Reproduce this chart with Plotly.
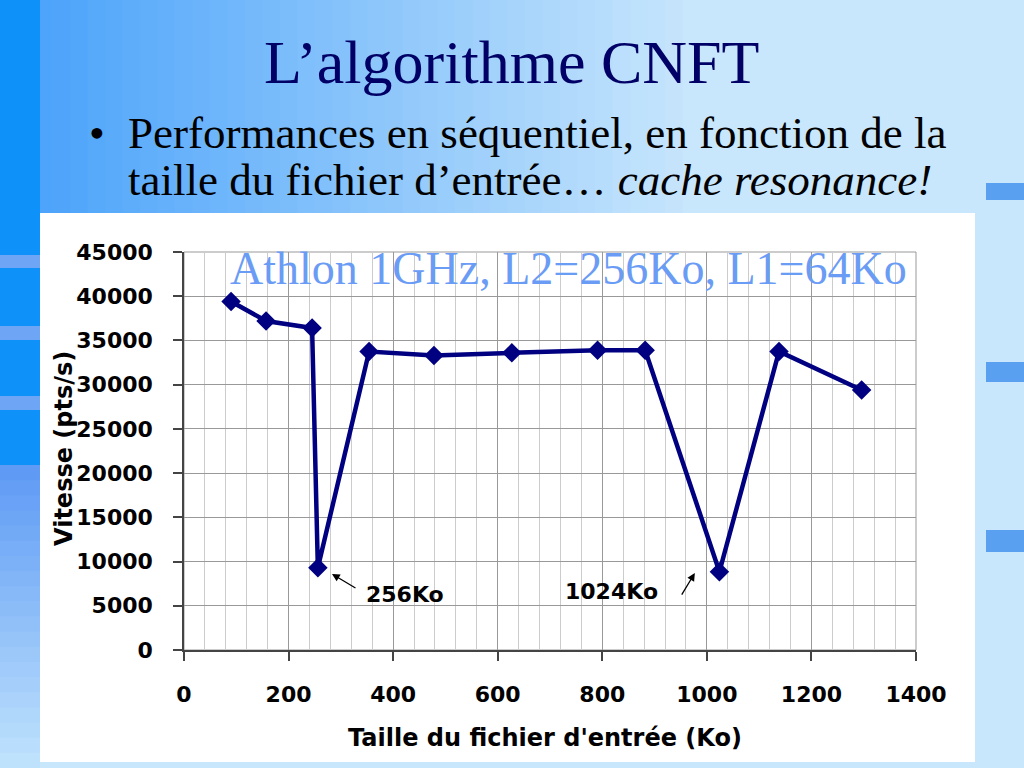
import plotly.graph_objects as go

# ---- data ----
taille_ko = [90, 157, 245, 256, 354, 478, 627, 791, 882, 1024, 1138, 1296]
vitesse = [39400, 37200, 36400, 9300, 33750, 33300, 33600, 33900, 33900, 8850, 33750, 29400]
x_ticks = [0, 200, 400, 600, 800, 1000, 1200, 1400]
y_ticks = [0, 5000, 10000, 15000, 20000, 25000, 30000, 35000, 40000, 45000]

W, H = 1024, 768
L, R, T, B = 184, 916, 252, 650  # plot area in pixels


def px(p):
    return (p - L) / (R - L)


def py(p):
    return (B - p) / (B - T)


def lerp(c1, c2, t):
    return "rgb(%d,%d,%d)" % tuple(round(a + (b - a) * t) for a, b in zip(c1, c2))


fig = go.Figure()
fig.add_trace(go.Scatter(
    x=taille_ko, y=vitesse, mode="lines+markers",
    line=dict(color="#000080", width=4.5),
    marker=dict(symbol="diamond", size=15, color="#000080"),
    hoverinfo="x+y", showlegend=False,
))

shapes = []
# background decoration: horizontal gradient at top
light = (200, 230, 252)
blue = (70, 160, 250)
N = 40
for i in range(N):
    x0 = i * 700 / N
    x1 = (i + 1) * 700 / N + 1
    t = i / (N - 1)
    shapes.append(dict(type="rect", xref="paper", yref="paper", layer="below",
                       x0=px(x0), x1=px(x1), y0=py(213), y1=py(0),
                       fillcolor=lerp(blue, light, t), line=dict(width=0)))
# left strip
shapes.append(dict(type="rect", xref="paper", yref="paper", layer="below",
                   x0=px(0), x1=px(40), y0=py(465), y1=py(0),
                   fillcolor="rgb(15,145,250)", line=dict(width=0)))
for y0, y1 in [(255, 268), (326, 340), (396, 410)]:
    shapes.append(dict(type="rect", xref="paper", yref="paper", layer="below",
                       x0=px(0), x1=px(40), y0=py(y1), y1=py(y0),
                       fillcolor="rgb(110,165,245)", line=dict(width=0)))
M = 20
for i in range(M):
    y0 = 465 + i * 303 / M
    y1 = 465 + (i + 1) * 303 / M + 1
    shapes.append(dict(type="rect", xref="paper", yref="paper", layer="below",
                       x0=px(0), x1=px(40), y0=py(y1), y1=py(y0),
                       fillcolor=lerp((95, 155, 245), (190, 225, 252), i / (M - 1)),
                       line=dict(width=0)))
# right decorative bars
for y0, y1 in [(183, 200), (362, 382), (530, 552)]:
    shapes.append(dict(type="rect", xref="paper", yref="paper", layer="below",
                       x0=px(986), x1=px(1024), y0=py(y1), y1=py(y0),
                       fillcolor="rgb(90,160,240)", line=dict(width=0)))
# white chart box
shapes.append(dict(type="rect", xref="paper", yref="paper", layer="below",
                   x0=px(40), x1=px(975), y0=py(762), y1=py(213),
                   fillcolor="white", line=dict(width=0)))

SERIF = "Liberation Serif, Times New Roman, serif"
SANS = "DejaVu Sans, Arial, sans-serif"

annotations = [
    dict(text="L\u2019algorithme CNFT", xref="paper", yref="paper",
         x=px(511), y=py(62), showarrow=False, xanchor="center", yanchor="middle",
         font=dict(family=SERIF, size=62, color="#000066")),
    dict(text="\u2022", xref="paper", yref="paper",
         x=px(97), y=py(133), showarrow=False, xanchor="center", yanchor="middle",
         font=dict(family=SERIF, size=45, color="black")),
    dict(text="Performances en séquentiel, en fonction de la", xref="paper", yref="paper",
         x=px(126), y=py(133), showarrow=False, xanchor="left", yanchor="middle",
         font=dict(family=SERIF, size=45, color="black")),
    dict(text="taille du fichier d\u2019entrée\u2026 <i>cache resonance!</i>", xref="paper", yref="paper",
         x=px(126), y=py(180), showarrow=False, xanchor="left", yanchor="middle",
         font=dict(family=SERIF, size=45, color="black")),
    dict(text="Athlon 1GHz, L2=256Ko, L1=64Ko", xref="paper", yref="paper",
         x=px(568), y=py(268), showarrow=False, xanchor="center", yanchor="middle",
         font=dict(family=SERIF, size=46, color="#6a9cf5")),
    dict(text="<b>Vitesse (pts/s)</b>", xref="paper", yref="paper", textangle=-90,
         x=px(64), y=py(449), showarrow=False, xanchor="center", yanchor="middle",
         font=dict(family=SANS, size=24, color="black")),
    dict(text="<b>Taille du fichier d'entrée (Ko)</b>", xref="paper", yref="paper",
         x=px(545), y=py(738), showarrow=False, xanchor="center", yanchor="middle",
         font=dict(family=SANS, size=24, color="black")),
    dict(text="<b>256Ko</b>", x=422, y=6300, showarrow=False, xanchor="center", yanchor="middle",
         font=dict(family=SANS, size=22, color="black")),
    dict(text="<b>1024Ko</b>", x=817, y=6670, showarrow=False, xanchor="center", yanchor="middle",
         font=dict(family=SANS, size=22, color="black")),
    dict(text="", x=283, y=8600, ax=25, ay=15, showarrow=True, arrowhead=2,
         arrowsize=1.2, arrowwidth=1.3, arrowcolor="black"),
    dict(text="", x=977, y=8700, ax=-14, ay=23, showarrow=True, arrowhead=2,
         arrowsize=1.2, arrowwidth=1.3, arrowcolor="black"),
]

fig.update_layout(
    width=W, height=H,
    margin=dict(l=L, r=W - R, t=T, b=H - B, pad=0),
    paper_bgcolor="rgb(200,230,252)",
    plot_bgcolor="white",
    shapes=shapes,
    annotations=annotations,
    showlegend=False,
    xaxis=dict(
        range=[0, 1400], tickvals=x_ticks, ticktext=[str(v) for v in x_ticks],
        showgrid=True, gridcolor="#999999", gridwidth=1,
        minor=dict(dtick=40, tick0=0, showgrid=True, gridcolor="#cccccc", gridwidth=1, ticks=""),
        showline=True, linecolor="#444444", linewidth=1.5,
        ticks="outside", ticklen=9, tickcolor="#444444", tickwidth=1.5,
        ticklabelstandoff=15, zeroline=False,
        tickfont=dict(family=SANS, size=22, color="black", weight="bold"),
    ),
    yaxis=dict(
        range=[0, 45000], tickvals=y_ticks, ticktext=[str(v) for v in y_ticks],
        showgrid=True, gridcolor="#999999", gridwidth=1,
        showline=True, linecolor="#444444", linewidth=1.5,
        ticks="outside", ticklen=9, tickcolor="#444444", tickwidth=1.5,
        ticklabelstandoff=16, zeroline=False,
        tickfont=dict(family=SANS, size=22, color="black", weight="bold"),
    ),
)
# outline of plot area (right/top edges)
fig.add_shape(type="rect", xref="paper", yref="paper", x0=0, x1=1, y0=0, y1=1,
              line=dict(color="#999999", width=1), layer="below")

fig.write_html("out.html", config={"displayModeBar": False},
               post_script="document.body.style.margin='0';document.body.style.padding='0';")
